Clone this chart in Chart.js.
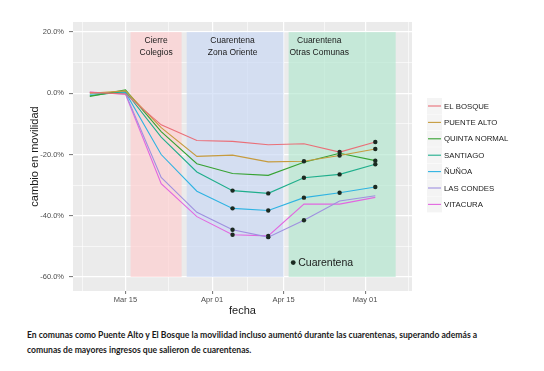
<!DOCTYPE html>
<html>
<head>
<meta charset="utf-8">
<script src="https://cdn.jsdelivr.net/npm/chart.js@4.4.1/dist/chart.umd.min.js"></script>
<style>
  html, body { margin: 0; padding: 0; background: #fff; }
  #wrap { position: relative; width: 544px; height: 371px; overflow: hidden; }
  #chart { position: absolute; left: 0; top: 0; }
  #caption {
    position: absolute; left: 27px; top: 328px; width: 510px;
    font-family: Lato, "Open Sans", sans-serif; font-weight: bold;
    font-size: 8.6px; line-height: 15px; color: #1a1a1a; white-space: nowrap;
  }
</style>
</head>
<body>
<div id="wrap">
  <canvas id="chart" width="544" height="320"></canvas>
  <div id="caption">En comunas como Puente Alto y El Bosque la movilidad incluso aumentó durante las cuarentenas, superando además a<br>comunas de mayores ingresos que salieron de cuarentenas.</div>
</div>
<script>
// days counted from Mar 1 (Mar 1 = 0)
const days = [7, 14, 21, 28, 35, 42, 49, 56, 63];

const comunas = ['EL BOSQUE', 'PUENTE ALTO', 'QUINTA NORMAL', 'SANTIAGO', 'ÑUÑOA', 'LAS CONDES', 'VITACURA'];

// cambio en movilidad (%)
const elBosque     = [0.3, -0.2, -10.3, -15.4, -15.7, -16.8, -16.5, -19.2, -15.9];
const puenteAlto   = [0.0, 0.8, -11.2, -20.6, -20.2, -22.4, -22.2, -20.3, -18.2];
const quintaNormal = [-1.0, 1.1, -12.5, -23.0, -26.2, -26.8, -22.5, -19.6, -22.0];
const santiago     = [-0.8, 0.6, -14.3, -25.7, -31.8, -32.7, -27.6, -26.5, -23.2];
const nunoa        = [-0.3, 0.3, -20.0, -32.0, -37.6, -38.3, -34.1, -32.5, -30.6];
const lasCondes    = [0.2, -0.1, -27.5, -38.9, -44.6, -47.0, -41.5, -35.2, -33.5];
const vitacura     = [0.4, -0.3, -29.5, -40.3, -46.2, -46.6, -36.2, -36.2, -34.0];

// 1 = en cuarentena ese día
const qElBosque     = [0, 0, 0, 0, 0, 0, 0, 1, 1];
const qPuenteAlto   = [0, 0, 0, 0, 0, 0, 1, 1, 1];
const qQuintaNormal = [0, 0, 0, 0, 0, 0, 0, 0, 1];
const qSantiago     = [0, 0, 0, 0, 1, 1, 1, 1, 1];
const qNunoa        = [0, 0, 0, 0, 1, 1, 1, 1, 1];
const qLasCondes    = [0, 0, 0, 0, 1, 1, 1, 0, 0];
const qVitacura     = [0, 0, 0, 0, 1, 1, 0, 0, 0];

const seriesValues = [elBosque, puenteAlto, quintaNormal, santiago, nunoa, lasCondes, vitacura];
const seriesQuarantine = [qElBosque, qPuenteAlto, qQuintaNormal, qSantiago, qNunoa, qLasCondes, qVitacura];
const colors = ['#ea6f78', '#c69b3e', '#36a232', '#1fae8c', '#2fb3e2', '#9f90e0', '#e267e0'];

// periods (start day, end day) and labels
const periodStart = [15, 26, 46];
const periodEnd = [25, 45, 67];
const periodLabels = [['Cierre', 'Colegios'], ['Cuarentena', 'Zona Oriente'], ['Cuarentena', 'Otras Comunas']];
const periodLabelDay = [20, 35, 52];
const periodColors = ['rgba(255,204,206,0.65)', 'rgba(200,215,244,0.65)', 'rgba(177,230,206,0.65)'];

const xMajor = [14, 31, 45, 61];
const xMajorLabels = ['Mar 15', 'Apr 01', 'Apr 15', 'May 01'];
const xMinor = [5.5, 22.5, 38, 53, 69.5];
const yMajor = [-60, -40, -20, 0, 20];
const yMinor = [-50, -30, -10, 10];

const FONT = '"Liberation Sans", Arial, sans-serif';
const isMajorX = v => xMajor.includes(v);
const isMajorY = v => yMajor.includes(v);

const panelPlugin = {
    id: 'panel',
    beforeDraw(chart) {
        const { ctx, chartArea: a } = chart;
        ctx.save();
        ctx.fillStyle = '#ebebeb';
        ctx.fillRect(a.left, a.top, a.right - a.left, a.bottom - a.top);
        ctx.restore();
    },
    beforeDatasetsDraw(chart) {
        const { ctx, scales: { x, y } } = chart;
        ctx.save();
        periodStart.forEach((s, i) => {
            const x0 = x.getPixelForValue(s), x1 = x.getPixelForValue(periodEnd[i]);
            const y0 = y.getPixelForValue(20), y1 = y.getPixelForValue(-60);
            ctx.fillStyle = periodColors[i];
            ctx.fillRect(x0, y0, x1 - x0, y1 - y0);
        });
        ctx.fillStyle = '#1a1a1a';
        ctx.font = '8.5px ' + FONT;
        ctx.textAlign = 'center';
        ctx.textBaseline = 'middle';
        periodLabels.forEach((lines, i) => {
            const px = x.getPixelForValue(periodLabelDay[i]);
            lines.forEach((t, j) => ctx.fillText(t, px, 41 + j * 12));
        });
        ctx.restore();
    },
    afterDraw(chart) {
        const { ctx, scales: { x, y } } = chart;
        ctx.save();
        // Cuarentena key inside the panel
        const cx = x.getPixelForValue(46.9), cy = y.getPixelForValue(-55.3);
        ctx.fillStyle = '#1b2a21';
        ctx.beginPath();
        ctx.arc(cx, cy, 2.4, 0, Math.PI * 2);
        ctx.fill();
        ctx.fillStyle = '#1a1a1a';
        ctx.font = '10.5px ' + FONT;
        ctx.textAlign = 'left';
        ctx.textBaseline = 'middle';
        ctx.fillText('Cuarentena', cx + 5, cy + 0.5);

        // legend on the right
        ctx.font = '7.8px ' + FONT;
        chart.data.datasets.forEach((ds, i) => {
            const ry = 106 + i * 16.4;
            ctx.fillStyle = '#f4f4f4';
            ctx.fillRect(427, ry - 8, 15, 16);
            ctx.strokeStyle = colors[i];
            ctx.lineWidth = 1.1;
            ctx.beginPath();
            ctx.moveTo(428, ry);
            ctx.lineTo(441, ry);
            ctx.stroke();
            ctx.fillStyle = '#1a1a1a';
            ctx.fillText(ds.label, 444, ry + 0.5);
        });
        ctx.restore();
    }
};

new Chart(document.getElementById('chart'), {
    type: 'line',
    data: {
        datasets: comunas.map((name, i) => ({
            label: name,
            data: days.map((d, k) => ({ x: d, y: seriesValues[i][k] })),
            borderColor: colors[i],
            backgroundColor: colors[i],
            borderWidth: 1.1,
            tension: 0,
            pointRadius: seriesQuarantine[i].map(q => q ? 2.2 : 0),
            pointBackgroundColor: '#1b2a21',
            pointBorderWidth: 0,
            pointHoverRadius: 0
        }))
    },
    options: {
        responsive: false,
        animation: false,
        events: [],
        layout: { padding: { top: 22, right: 132, left: 0, bottom: 0 } },
        plugins: {
            legend: { display: false },
            tooltip: { enabled: false }
        },
        scales: {
            x: {
                type: 'linear',
                min: 3.7,
                max: 70.2,
                afterBuildTicks: scale => {
                    scale.ticks = [...xMinor, ...xMajor].sort((a, b) => a - b).map(v => ({ value: v }));
                },
                afterFit: scale => { scale.height = 29; },
                border: { display: false },
                grid: {
                    color: '#ffffff',
                    lineWidth: ctx => isMajorX(ctx.tick.value) ? 1.2 : 0.6,
                    tickColor: ctx => isMajorX(ctx.tick.value) ? '#4d4d4d' : 'rgba(0,0,0,0)',
                    tickLength: 3,
                    tickWidth: 0.8
                },
                ticks: {
                    autoSkip: false,
                    maxRotation: 0,
                    padding: 1,
                    color: '#4d4d4d',
                    font: { family: FONT, size: 7.5 },
                    callback: v => isMajorX(v) ? xMajorLabels[xMajor.indexOf(v)] : ''
                },
                title: {
                    display: true,
                    text: 'fecha',
                    color: '#1a1a1a',
                    font: { family: FONT, size: 11 },
                    padding: { top: 0, bottom: 2.4 }
                }
            },
            y: {
                min: -64.6,
                max: 23.3,
                afterBuildTicks: scale => {
                    scale.ticks = [...yMinor, ...yMajor].sort((a, b) => a - b).map(v => ({ value: v }));
                },
                afterFit: scale => { scale.width = 73; },
                border: { display: false },
                grid: {
                    color: '#ffffff',
                    lineWidth: ctx => isMajorY(ctx.tick.value) ? 1.2 : 0.6,
                    tickColor: ctx => isMajorY(ctx.tick.value) ? '#4d4d4d' : 'rgba(0,0,0,0)',
                    tickLength: 4,
                    tickWidth: 0.8
                },
                ticks: {
                    autoSkip: false,
                    padding: 5,
                    color: '#4d4d4d',
                    font: { family: FONT, size: 7.5 },
                    callback: v => isMajorY(v) ? v.toFixed(1) + '%' : ''
                },
                title: {
                    display: true,
                    text: 'cambio en movilidad',
                    color: '#1a1a1a',
                    font: { family: FONT, size: 11 },
                    padding: { top: 28, bottom: 0 }
                }
            }
        }
    },
    plugins: [panelPlugin]
});
</script>
</body>
</html>
